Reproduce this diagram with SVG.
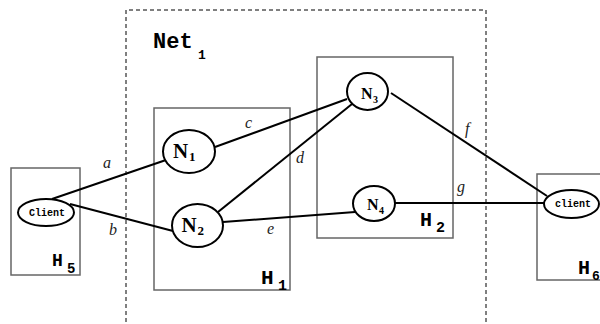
<svg xmlns="http://www.w3.org/2000/svg" width="600" height="324" viewBox="0 0 600 324">
<style>
.host{fill:none;stroke:#666;stroke-width:1.5}
.node{fill:#fff;stroke:#000;stroke-width:2}
.edge{stroke:#000;stroke-width:2;fill:none}
.lbl{font-family:"Liberation Serif",serif;font-style:italic;font-size:16px;fill:#222}
.nl{font-family:"Liberation Serif",serif;font-weight:bold;fill:#000}
.hl{font-family:"Liberation Mono",monospace;font-weight:bold;fill:#000}
.cl{font-family:"Liberation Mono",monospace;font-size:10px;font-weight:bold;fill:#000}
</style>
<rect width="600" height="324" fill="#fff"/>
<g id="net1">
<path d="M126,322 V10 H486 V322" fill="none" stroke="#000" stroke-width="1" stroke-dasharray="4,3"/>
<text class="hl" x="153" y="48" font-size="22">Net</text>
<text class="hl" x="198" y="59" font-size="13">1</text>
</g>
<g id="H1"><rect class="host" x="154" y="108" width="136" height="182"/>
<text class="hl" x="261" y="284" font-size="21">H</text><text class="hl" x="278" y="290" font-size="15">1</text></g>
<g id="H2"><rect class="host" x="317" y="57" width="136" height="181"/>
<text class="hl" x="420" y="226" font-size="20">H</text><text class="hl" x="436" y="232" font-size="15">2</text></g>
<g id="H5"><rect class="host" x="11" y="168" width="69" height="107"/>
<text class="hl" x="52" y="266" font-size="18">H</text><text class="hl" x="67" y="273" font-size="14">5</text></g>
<g id="H6"><rect class="host" x="537" y="174" width="70" height="106"/>
<text class="hl" x="578" y="274" font-size="20">H</text><text class="hl" x="592" y="280" font-size="13">6</text></g>
<g id="edges">
<line class="edge" x1="52" y1="199" x2="166" y2="160"/>
<line class="edge" x1="70" y1="204" x2="173" y2="231"/>
<line class="edge" x1="215" y1="147" x2="347" y2="99"/>
<line class="edge" x1="218" y1="212" x2="352" y2="104"/>
<line class="edge" x1="223" y1="222" x2="355" y2="212"/>
<line class="edge" x1="391" y1="93" x2="547" y2="196"/>
<line class="edge" x1="395" y1="203" x2="544" y2="203"/>
<text class="lbl" x="103" y="168">a</text>
<text class="lbl" x="109" y="235">b</text>
<text class="lbl" x="245" y="128">c</text>
<text class="lbl" x="296" y="163">d</text>
<text class="lbl" x="267" y="234">e</text>
<text class="lbl" x="465" y="134">f</text>
<text class="lbl" x="457" y="192">g</text>
</g>
<g id="N1"><ellipse class="node" cx="189" cy="151.5" rx="26" ry="21.5"/>
<text class="nl" x="173" y="158" font-size="21">N</text><text class="nl" x="189" y="161" font-size="13">1</text></g>
<g id="N2"><ellipse class="node" cx="197.5" cy="225.5" rx="25.5" ry="21.5"/>
<text class="nl" x="181.5" y="232" font-size="21">N</text><text class="nl" x="197.5" y="235" font-size="13">2</text></g>
<g id="N3"><ellipse class="node" cx="367.5" cy="91.5" rx="20.5" ry="18.5"/>
<text class="nl" x="361" y="99" font-size="16">N</text><text class="nl" x="373" y="103" font-size="10">3</text></g>
<g id="N4"><ellipse class="node" cx="374" cy="203.5" rx="21" ry="17.5"/>
<text class="nl" x="367" y="210" font-size="16">N</text><text class="nl" x="379" y="214" font-size="10">4</text></g>
<g id="client5"><ellipse class="node" cx="46" cy="212.5" rx="28" ry="13.5"/>
<text class="cl" x="47" y="216" text-anchor="middle">Client</text></g>
<g id="client6"><ellipse class="node" cx="571.5" cy="204" rx="27.5" ry="14"/>
<text class="cl" x="573" y="207" text-anchor="middle">client</text></g>
</svg>
